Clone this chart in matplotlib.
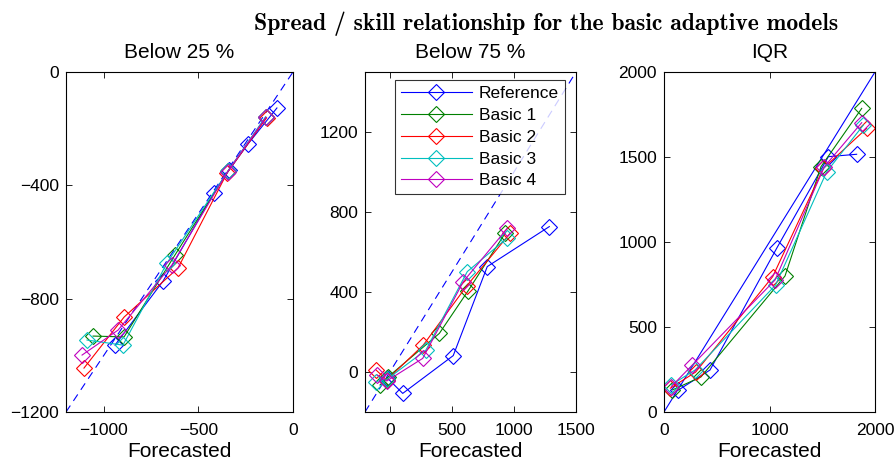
import matplotlib
matplotlib.use("Agg")
import matplotlib.pyplot as plt

plt.rcParams['font.family'] = ['Liberation Sans', 'DejaVu Sans']

names = ['Reference', 'Basic 1', 'Basic 2', 'Basic 3', 'Basic 4']
colors = ['#0000ff', '#008000', '#ff0000', '#00bfbf', '#bf00bf']

# Below 25 % quantile: forecasted vs observed
q25_x = {
    'Reference': [-941, -687, -418, -338, -238, -85],
    'Basic 1': [-1057, -893, -624, -344, -143],
    'Basic 2': [-1105, -893, -608, -348, -140],
    'Basic 3': [-1089, -899, -666, -342, -145],
    'Basic 4': [-1115, -925, -640, -346, -143],
}
q25_y = {
    'Reference': [-964, -738, -427, -346, -254, -127],
    'Basic 1': [-932, -935, -646, -350, -160],
    'Basic 2': [-1045, -865, -692, -356, -162],
    'Basic 3': [-946, -964, -674, -348, -158],
    'Basic 4': [-999, -911, -681, -352, -160],
}

# Below 75 % quantile
q75_x = {
    'Reference': [-20, 104, 511, 785, 1285],
    'Basic 1': [-79, -15, 399, 632, 928],
    'Basic 2': [-111, -25, 270, 619, 968],
    'Basic 3': [-111, -20, 291, 624, 942],
    'Basic 4': [-101, -25, 265, 592, 946],
}
q75_y = {
    'Reference': [-30, -107, 82, 527, 727],
    'Basic 1': [-65, -25, 193, 407, 693],
    'Basic 2': [10, -40, 135, 430, 693],
    'Basic 3': [-48, -35, 110, 502, 668],
    'Basic 4': [-15, -45, 68, 452, 718],
}

# Inter-quartile range
iqr_x = {
    'Reference': [136, 436, 1068, 1558, 1826],
    'Basic 1': [80, 350, 1147, 1488, 1874],
    'Basic 2': [60, 300, 1030, 1510, 1921],
    'Basic 3': [70, 294, 1058, 1542, 1890],
    'Basic 4': [70, 268, 1052, 1520, 1874],
}
iqr_y = {
    'Reference': [129, 247, 963, 1502, 1516],
    'Basic 1': [130, 206, 800, 1443, 1786],
    'Basic 2': [140, 235, 796, 1433, 1668],
    'Basic 3': [160, 247, 747, 1413, 1688],
    'Basic 4': [150, 276, 776, 1443, 1702],
}

panels = [
    ('Below 25 %', q25_x, q25_y, (-1200, 0), [-1000, -500, 0], [-1200, -800, -400, 0], '--'),
    ('Below 75 %', q75_x, q75_y, (-200, 1500), [0, 500, 1000, 1500], [0, 400, 800, 1200], '--'),
    ('IQR', iqr_x, iqr_y, (0, 2000), [0, 1000, 2000], [0, 500, 1000, 1500, 2000], '-'),
]
boxes = [
    [66 / 894, 54 / 466, 227 / 894, 340 / 466],
    [365 / 894, 54 / 466, 211 / 894, 340 / 466],
    [664 / 894, 54 / 466, 211 / 894, 340 / 466],
]

fig = plt.figure(figsize=(8.94, 4.66), dpi=100)
fig.text(546 / 894, 0.95, 'Spread / skill relationship for the basic adaptive models',
         ha='center', va='center', fontsize=17, family='cmb10')

for box, (title, xs, ys, lim, xt, yt, diag) in zip(boxes, panels):
    ax = fig.add_axes(box)
    if diag == '--':
        ax.plot(lim, lim, color='#0000ff', lw=0.8, dashes=(7, 5))
    else:
        ax.plot(lim, lim, color='#0000ff', lw=0.8)
    for n, c in zip(names, colors):
        ax.plot(xs[n], ys[n], '-', color=c, lw=0.8, marker='D', ms=8,
                mfc='none', mec=c, mew=0.8, label=n)
    ax.set_xlim(lim)
    ax.set_ylim(lim)
    ax.set_xticks(xt)
    ax.set_yticks(yt)
    ax.tick_params(direction='in', top=True, right=True, labelsize=12.5,
                   length=4, width=0.6)
    ax.tick_params(axis='x', pad=8)
    ax.tick_params(axis='y', pad=5)
    for s in ax.spines.values():
        s.set_linewidth(0.8)
    ax.set_title(title, fontsize=15, pad=10)
    ax.set_xlabel('Forecasted', fontsize=15, labelpad=3)
    if title == 'Below 75 %':
        handles = ax.get_lines()[1:]
        leg = ax.legend(handles=handles, loc='upper right',
                        bbox_to_anchor=(0.948, 0.976), borderaxespad=0,
                        fontsize=12.5, frameon=True, fancybox=False,
                        edgecolor='black', handlelength=4.1, labelspacing=0.38,
                        handletextpad=0.4, borderpad=0.35)
        leg.get_frame().set_linewidth(0.8)

fig.savefig('out.png', dpi=100)
